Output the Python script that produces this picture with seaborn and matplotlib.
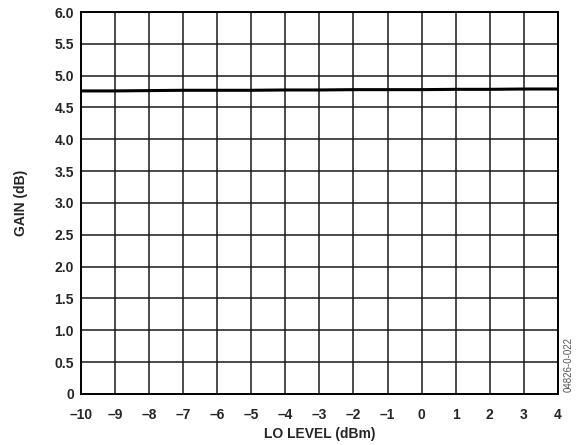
import numpy as np
import pandas as pd
import matplotlib
matplotlib.use("Agg")
import matplotlib.pyplot as plt
import seaborn as sns

# LO level sweep vs conversion gain
lo_level = [-10, -9, -8, -7, -6, -5, -4, -3, -2, -1, 0, 1, 2, 3, 4]
gain_db = [4.76, 4.76, 4.765, 4.77, 4.77, 4.77, 4.775, 4.775, 4.78, 4.78, 4.78, 4.785, 4.785, 4.79, 4.79]

x_ticks = list(range(-10, 5))
x_labels = [str(v).replace("-", "\u2013") for v in x_ticks]
y_ticks = [0, 0.5, 1.0, 1.5, 2.0, 2.5, 3.0, 3.5, 4.0, 4.5, 5.0, 5.5, 6.0]
y_labels = ["0"] + [f"{v:.1f}" for v in y_ticks[1:]]

sns.set_style("white")
plt.rcParams['font.family'] = ['Liberation Sans', 'DejaVu Sans']

df = pd.DataFrame({'lo': lo_level, 'gain': gain_db})

fig = plt.figure(figsize=(5.77, 4.45), dpi=100)
ax = fig.add_axes([0.140, 0.115, 0.827, 0.858])

sns.lineplot(data=df, x='lo', y='gain', ax=ax, color='black', linewidth=2.2)

ax.set_xlim(-10, 4)
ax.set_ylim(0, 6)
ax.set_xticks(x_ticks)
ax.set_xticklabels(x_labels, fontsize=10, fontweight='bold')
ax.set_yticks(y_ticks)
ax.set_yticklabels(y_labels, fontsize=10, fontweight='bold')
ax.tick_params(axis='x', length=0, pad=10)
ax.tick_params(axis='y', length=0, pad=5)
ax.grid(True, color='#1a1a1a', linewidth=1.1)
ax.set_axisbelow(True)
for s in ax.spines.values():
    s.set_color('black')
    s.set_linewidth(1.4)

ax.set_xlabel('LO LEVEL (dBm)', fontsize=10, fontweight='bold', labelpad=4)
ax.set_ylabel('GAIN (dB)', fontsize=10, fontweight='bold', labelpad=19)

fig.text(0.985, 0.182, '04826-0-022', rotation=90, fontsize=7, color='#555555',
         ha='center', va='center')

plt.savefig('out.png', dpi=100)
